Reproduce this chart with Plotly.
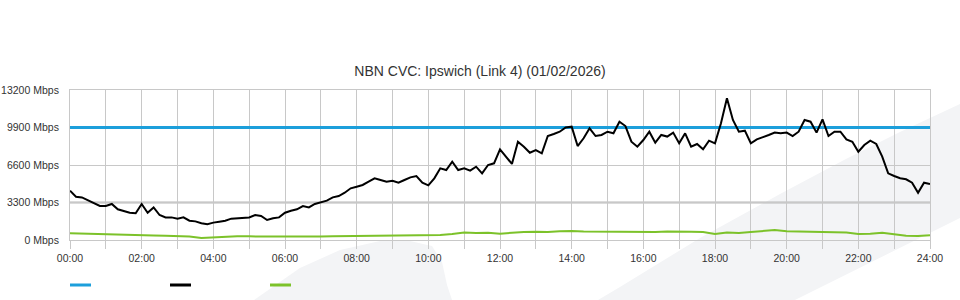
import plotly.graph_objects as go

# ---------------- data ----------------
TITLE = "NBN CVC: Ipswich (Link 4) (01/02/2026)"

# black series: hours at 10-minute steps
black_hours = [i / 6 for i in range(145)]
black_mbps = [
    4340, 3810, 3750, 3520, 3230, 2990,  # 00:00-00:50
    2990, 3170, 2700, 2580, 2400, 2350,  # 01:00
    3170, 2400, 2870, 2200, 1990, 1990,  # 02:00
    1880, 1990, 1700, 1640, 1470, 1380,  # 03:00
    1530, 1610, 1700, 1880, 1910, 1940,  # 04:00
    1990, 2200, 2110, 1760, 1910, 1990,  # 05:00
    2400, 2580, 2700, 2990, 2870, 3170,  # 06:00
    3340, 3460, 3750, 3870, 4160, 4550,  # 07:00
    4690, 4840, 5130, 5430, 5280, 5130,  # 08:00
    5220, 5040, 5280, 5510, 5630, 5040,  # 09:00
    4810, 5430, 6310, 6160, 6890, 6160,  # 10:00
    6310, 6100, 6450, 5870, 6600, 6750,  # 11:00
    7980, 7330, 6690, 8650, 8210, 7680,  # 12:00
    7920, 7630, 9150, 9330, 9530, 9910,  # 13:00
    9970, 8270, 8950, 9830, 9150, 9240,  # 14:00
    9530, 9390, 10410, 10030, 8650, 8210,  # 15:00
    8800, 9530, 8560, 9240, 9100, 9450,  # 16:00
    8510, 9390, 8210, 8450, 7980, 8740,  # 17:00
    8510, 10270, 12470, 10560, 9530, 9620,  # 18:00
    8510, 8860, 9030, 9240, 9450, 9390,  # 19:00
    9450, 9150, 9530, 10560, 10410, 9450,  # 20:00
    10620, 9150, 9530, 9530, 8860, 8650,  # 21:00
    7770, 8360, 8740, 8450, 7330, 5870,  # 22:00
    5630, 5430, 5340, 5040, 4160, 5040,  # 23:00
    4930,                                # 24:00
]

# green series: hours at 20-minute steps
green_hours = [i / 3 for i in range(73)]
green_mbps = [
    590, 560, 500, 470, 430, 450, 420, 400, 380,  # 00:00-02:40
    350, 300, 180, 250, 300, 330, 320, 310, 300,  # 03:00-05:40
    280, 310, 320, 300, 320, 330, 350, 360, 400,  # 06:00-08:40
    430, 400, 410, 440, 430, 520, 650, 620, 640,  # 09:00-11:40
    560, 650, 700, 720, 700, 760, 790, 740, 730,  # 12:00-14:40
    740, 720, 700, 730, 700, 740, 760, 730, 700,  # 15:00-17:40
    530, 650, 620, 700, 800, 880, 780, 760, 740,  # 18:00-20:40
    720, 690, 650, 530, 540, 640, 520, 380, 350,  # 21:00-23:40
    410,                                          # 24:00
]

# blue series: capacity line
blue_hours = [0, 24]
blue_mbps = [9900, 9900]

x_tick_vals = list(range(0, 25, 2))
x_tick_text = [f"{h:02d}:00" for h in x_tick_vals]
y_tick_vals = [0, 3300, 6600, 9900, 13200]
y_tick_text = [f"{v} Mbps" for v in y_tick_vals]

# ---------------- style ----------------
BLUE = "#1c9fdb"
BLACK = "#000000"
GREEN = "#7cc22a"
GRID = "#c8c8c8"
GRID_DARK = "#b8b8b8"
WATER = "#f3f4f6"
FONT = "Liberation Sans, Arial, sans-serif"

W, H = 960, 300
ML, MR, MT, MB = 70, 30, 90, 60
PW, PH = W - ML - MR, H - MT - MB


def px(x, y):
    """convert page pixel position to paper coordinates (decorations only)"""
    return (x - ML) / PW, (H - MB - y) / PH


def path(points):
    s = ""
    for i, (x, y) in enumerate(points):
        a, b = px(x, y)
        s += ("M" if i == 0 else "L") + f"{a:.4f},{b:.4f} "
    return s + "Z"


fig = go.Figure()
fig.add_trace(go.Scatter(x=blue_hours, y=blue_mbps, mode="lines",
                         line=dict(color=BLUE, width=3), showlegend=False))
fig.add_trace(go.Scatter(x=green_hours, y=green_mbps, mode="lines",
                         line=dict(color=GREEN, width=2), showlegend=False))
fig.add_trace(go.Scatter(x=black_hours, y=black_mbps, mode="lines",
                         line=dict(color=BLACK, width=2), showlegend=False))

shapes = []
# background watermark swooshes
shapes.append(dict(type="path", xref="paper", yref="paper", layer="below",
                   fillcolor=WATER, line=dict(width=0),
                   path=path([(254, 300), (300, 268), (340, 250), (380, 241),
                              (410, 241), (432, 246), (442, 262), (447, 285),
                              (452, 300)])))
shapes.append(dict(type="path", xref="paper", yref="paper", layer="below",
                   fillcolor=WATER, line=dict(width=0),
                   path=path([(598, 300), (620, 287), (700, 238), (780, 194),
                              (844, 160), (900, 132), (960, 104), (960, 218),
                              (795, 300)])))
# slightly heavier 3300 gridline as in the reference
shapes.append(dict(type="line", xref="paper", yref="y", layer="below",
                   x0=0, x1=1, y0=y_tick_vals[1], y1=y_tick_vals[1],
                   line=dict(color=GRID_DARK, width=2)))
# legend swatches (no text)
for col, x0 in [(BLUE, 70), (BLACK, 170), (GREEN, 270)]:
    a0, b0 = px(x0, 285)
    a1, _ = px(x0 + 21, 285)
    shapes.append(dict(type="line", xref="paper", yref="paper",
                       x0=a0, x1=a1, y0=b0, y1=b0,
                       line=dict(color=col, width=3)))

fig.update_layout(
    width=W, height=H,
    margin=dict(l=ML, r=MR, t=MT, b=MB, autoexpand=False),
    paper_bgcolor="white", plot_bgcolor="rgba(0,0,0,0)",
    font=dict(family=FONT, size=10.5, color="#333333"),
    title=dict(text=TITLE, x=0.5, xref="container", xanchor="center",
               y=1 - 71 / H, yref="container", yanchor="middle",
               font=dict(size=14, color="#333333", family=FONT)),
    showlegend=False,
    shapes=shapes,
)
fig.update_xaxes(range=[0, 24], tickmode="array", tickvals=x_tick_vals,
                 ticktext=x_tick_text, showgrid=True, gridcolor=GRID,
                 gridwidth=1, ticks="outside", ticklen=8, tickcolor=GRID,
                 showline=True, linecolor=GRID, mirror=True, zeroline=False,
                 automargin=False, tickfont=dict(size=10.5),
                 minor=dict(tickvals=list(range(25)), showgrid=True,
                            gridcolor=GRID, ticks="outside", ticklen=8,
                            tickcolor=GRID))
fig.update_yaxes(range=[0, 13200], tickmode="array", tickvals=y_tick_vals,
                 ticktext=y_tick_text, showgrid=True, gridcolor=GRID,
                 gridwidth=1, showline=True, linecolor=GRID, mirror=True,
                 zeroline=False, ticks="", ticklabelstandoff=8,
                 automargin=False, tickfont=dict(size=10.5))

fig.write_html("out.html")
